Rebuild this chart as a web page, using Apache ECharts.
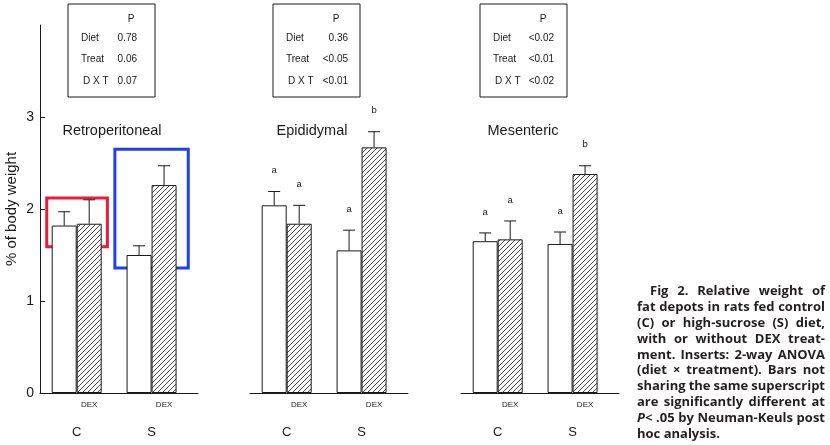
<!DOCTYPE html>
<html><head><meta charset="utf-8">
<script src="https://cdn.jsdelivr.net/npm/echarts@6/dist/echarts.min.js"></script>
<style>html,body{margin:0;padding:0;background:#fff}#c{width:830px;height:445px}</style>
</head><body><div id="c"></div>
<script>
// ---------- data ----------
const panelNames = ['Retroperitoneal', 'Epididymal', 'Mesenteric'];
const groups = ['C', 'S'];
const dexLabel = 'DEX';
const meanNoDex = [[1.82, 1.50], [2.04, 1.55], [1.65, 1.62]];
const meanDex   = [[1.84, 2.26], [1.84, 2.67], [1.67, 2.38]];
const errNoDex  = [[0.15, 0.10], [0.15, 0.22], [0.09, 0.13]];
const errDex    = [[0.26, 0.21], [0.20, 0.17], [0.20, 0.09]];
const lettersNoDex = [['', ''], ['a', 'a'], ['a', 'a']];
const lettersDex   = [['', ''], ['a', 'b'], ['a', 'b']];
const anovaHeader = 'P';
const anovaTerms = ['Diet', 'Treat', 'D X T'];
const anovaP = [['0.78', '0.06', '0.07'], ['0.36', '<0.05', '<0.01'], ['<0.02', '<0.01', '<0.02']];
const yTicks = [0, 1, 2, 3];
const yLabel = '% of body weight';
const highlightBoxes = [
  { color: '#ec1b3b', x: [-0.40, 0.41], y: [1.59, 2.12] },
  { color: '#1e40f2', x: [0.51, 1.49], y: [1.36, 2.65] }
];
const captionLines = [
  ['Fig', '2.', 'Relative', 'weight', 'of'],
  ['fat', 'depots', 'in', 'rats', 'fed', 'control'],
  ['(C)', 'or', 'high-sucrose', '(S)', 'diet,'],
  ['with', 'or', 'without', 'DEX', 'treat-'],
  ['ment.', 'Inserts:', '2-way', 'ANOVA'],
  ['(diet', '\u00d7', 'treatment).', 'Bars', 'not'],
  ['sharing', 'the', 'same', 'superscript'],
  ['are', 'significantly', 'different', 'at'],
  ['*P*<', '.05', 'by', 'Neuman-Keuls', 'post'],
  ['hoc', 'analysis.']
];

// ---------- layout / style ----------
const FONT = '"Liberation Sans", Arial, sans-serif';
const CAP_FONT = '"Open Sans", "Noto Sans", sans-serif';
const INK = '#1a1a1a';
const gridLefts = [40, 250, 461];
const GRID_W = 158, GRID_TOP = 25, GRID_H = 368;
const BAR_W = 25;
const titleX = [112, 312, 523];
const insetLeft = [68, 273, 480];
const insetValRight = [69, 75, 74];

function hatchCanvas() {
  const c = document.createElement('canvas');
  c.width = 5; c.height = 5;
  const g = c.getContext('2d');
  g.fillStyle = '#fff'; g.fillRect(0, 0, 5, 5);
  g.strokeStyle = '#333'; g.lineWidth = 0.9;
  g.beginPath();
  g.moveTo(0, 5); g.lineTo(5, 0);
  g.moveTo(-1, 1); g.lineTo(1, -1);
  g.moveTo(4, 6); g.lineTo(6, 4);
  g.stroke();
  return c;
}
const hatch = { image: hatchCanvas(), repeat: 'repeat' };

const chart = echarts.init(document.getElementById('c'), null, { renderer: 'canvas' });

const grid = [], xAxis = [], yAxis = [], series = [];
panelNames.forEach((name, i) => {
  grid.push({ left: gridLefts[i], top: GRID_TOP, width: GRID_W, height: GRID_H });
  xAxis.push({
    type: 'value', gridIndex: i, min: -0.49, max: 1.62,
    axisLine: { show: true, onZero: false, lineStyle: { color: INK, width: 1 } },
    axisTick: { show: false }, splitLine: { show: false },
    axisLabel: { customValues: [0, 1], formatter: v => groups[Math.round(v)], margin: 33,
      fontSize: 13, color: INK, fontFamily: FONT }
  });
  yAxis.push({
    type: 'value', gridIndex: i, min: 0, max: 4, show: i === 0,
    axisLine: { show: true, onZero: false, lineStyle: { color: INK, width: 1 } },
    axisTick: { show: true, inside: true, length: 5, customValues: yTicks, lineStyle: { color: INK } },
    axisLabel: { customValues: yTicks, fontSize: 14, margin: 6, color: INK, fontFamily: FONT },
    splitLine: { show: false },
    name: i === 0 ? yLabel : '', nameLocation: 'middle', nameGap: 21,
    nameTextStyle: { fontSize: 15, color: INK, fontFamily: FONT }
  });
  series.push({
    type: 'bar', xAxisIndex: i, yAxisIndex: i, barWidth: BAR_W, barGap: '0%',
    data: groups.map((g, j) => [j, meanNoDex[i][j]]),
    itemStyle: { color: '#fff', borderColor: INK, borderWidth: 1 },
    silent: true
  });
  series.push({
    type: 'bar', xAxisIndex: i, yAxisIndex: i, barWidth: BAR_W, barGap: '0%',
    data: groups.map((g, j) => [j, meanDex[i][j]]),
    itemStyle: { color: hatch, borderColor: INK, borderWidth: 1 },
    label: { show: true, position: 'bottom', distance: 8, formatter: dexLabel,
      fontSize: 8, color: INK, fontFamily: FONT },
    silent: true
  });
  [[meanNoDex, errNoDex, lettersNoDex, -1], [meanDex, errDex, lettersDex, 1]].forEach(([m, e, L, side], k) => {
    const s = {
      type: 'custom', xAxisIndex: i, yAxisIndex: i, z: 5, silent: true,
      data: groups.map((g, j) => [j, m[i][j], m[i][j] + e[i][j]]),
      encode: { x: 0, y: [1, 2] },
      renderItem: (params, api) => {
        const j = params.dataIndex;
        const base = api.coord([api.value(0), api.value(1)]);
        const top = api.coord([api.value(0), api.value(2)]);
        const x = base[0] + side * BAR_W / 2;
        const ch = [
          { type: 'line', shape: { x1: x, y1: base[1], x2: x, y2: top[1] }, style: { stroke: INK, lineWidth: 1 } },
          { type: 'line', shape: { x1: x - 6, y1: top[1], x2: x + 6, y2: top[1] }, style: { stroke: INK, lineWidth: 1 } }
        ];
        const t = L[i][j];
        if (t) ch.push({ type: 'text', x: x, y: top[1] - 21,
          style: { text: t, fontSize: 9.5, fill: INK, align: 'center', verticalAlign: 'middle', fontFamily: FONT } });
        return { type: 'group', children: ch };
      }
    };
    if (i === 0 && k === 1) {
      s.markArea = {
        silent: true,
        data: highlightBoxes.map(b => [
          { coord: [b.x[0], b.y[1]], itemStyle: { color: 'rgba(0,0,0,0)', borderColor: b.color, borderWidth: 3 } },
          { coord: [b.x[1], b.y[0]] }
        ])
      };
    }
    series.push(s);
  });
});

// ---------- graphic text: titles, ANOVA inserts, caption ----------
const graphic = [];
panelNames.forEach((name, i) => {
  graphic.push({ type: 'text', x: titleX[i], y: 131,
    style: { text: name, fontSize: 14.5, fill: INK, fontFamily: FONT, align: 'center', verticalAlign: 'middle' } });
  const L = insetLeft[i];
  graphic.push({ type: 'rect', shape: { x: L, y: 4, width: 87, height: 93 },
    style: { fill: 'none', stroke: INK, lineWidth: 1 } });
  graphic.push({ type: 'text', x: L + 63, y: 19,
    style: { text: anovaHeader, fontSize: 10, fill: INK, fontFamily: FONT, align: 'center', verticalAlign: 'middle' } });
  anovaTerms.forEach((term, r) => {
    const y = 38 + r * 21.5;
    graphic.push({ type: 'text', x: L + 13 + (r === 2 ? 2 : 0), y: y,
      style: { text: term, fontSize: 10, fill: INK, fontFamily: FONT, align: 'left', verticalAlign: 'middle' } });
    graphic.push({ type: 'text', x: L + insetValRight[i], y: y,
      style: { text: anovaP[i][r], fontSize: 10, fill: INK, fontFamily: FONT, align: 'right', verticalAlign: 'middle' } });
  });
});

// caption (justified)
const mctx = document.createElement('canvas').getContext('2d');
function segsOf(word) {
  return word.split('*').map((t, k) => ({ t, italic: k % 2 === 1 })).filter(s => s.t.length);
}
function fontStr(size, italic) { return (italic ? 'italic ' : '') + 'bold ' + size + 'px ' + CAP_FONT; }
function segW(s, size) { mctx.font = fontStr(size, s.italic); return mctx.measureText(s.t).width; }
function wordW(w, size) { return segsOf(w).reduce((a, s) => a + segW(s, size), 0); }
const CAP_L = 637, CAP_R = 825;
let capSize = 13;
(function fit() {
  let ratio = 1;
  captionLines.forEach((ln, k) => {
    if (k === captionLines.length - 1) return;
    mctx.font = fontStr(capSize, false);
    const sp = mctx.measureText(' ').width * 0.8;
    const left = k === 0 ? 650 : CAP_L;
    const nat = ln.reduce((a, w) => a + wordW(w, capSize), 0) + sp * (ln.length - 1);
    ratio = Math.min(ratio, (CAP_R - left) / nat);
  });
  capSize = +(capSize * ratio).toFixed(2);
})();
captionLines.forEach((ln, k) => {
  const y = 291.7 + k * 15.8;
  const left = k === 0 ? 650 : CAP_L;
  const widths = ln.map(w => wordW(w, capSize));
  const sum = widths.reduce((a, b) => a + b, 0);
  mctx.font = fontStr(capSize, false);
  const sp = mctx.measureText(' ').width;
  const gap = (k === captionLines.length - 1 || ln.length < 2) ? sp : (CAP_R - left - sum) / (ln.length - 1);
  let x = left;
  ln.forEach((w, n) => {
    segsOf(w).forEach(s => {
      graphic.push({ type: 'text', x: x, y: y,
        style: { text: s.t, fontSize: capSize, fontWeight: 'bold', fontStyle: s.italic ? 'italic' : 'normal',
          fontFamily: CAP_FONT, fill: '#231f20', align: 'left', verticalAlign: 'middle' } });
      x += segW(s, capSize);
    });
    x += gap;
  });
});

chart.setOption({
  animation: false,
  backgroundColor: '#fff',
  grid, xAxis, yAxis, series, graphic
});
</script>
</body></html>
